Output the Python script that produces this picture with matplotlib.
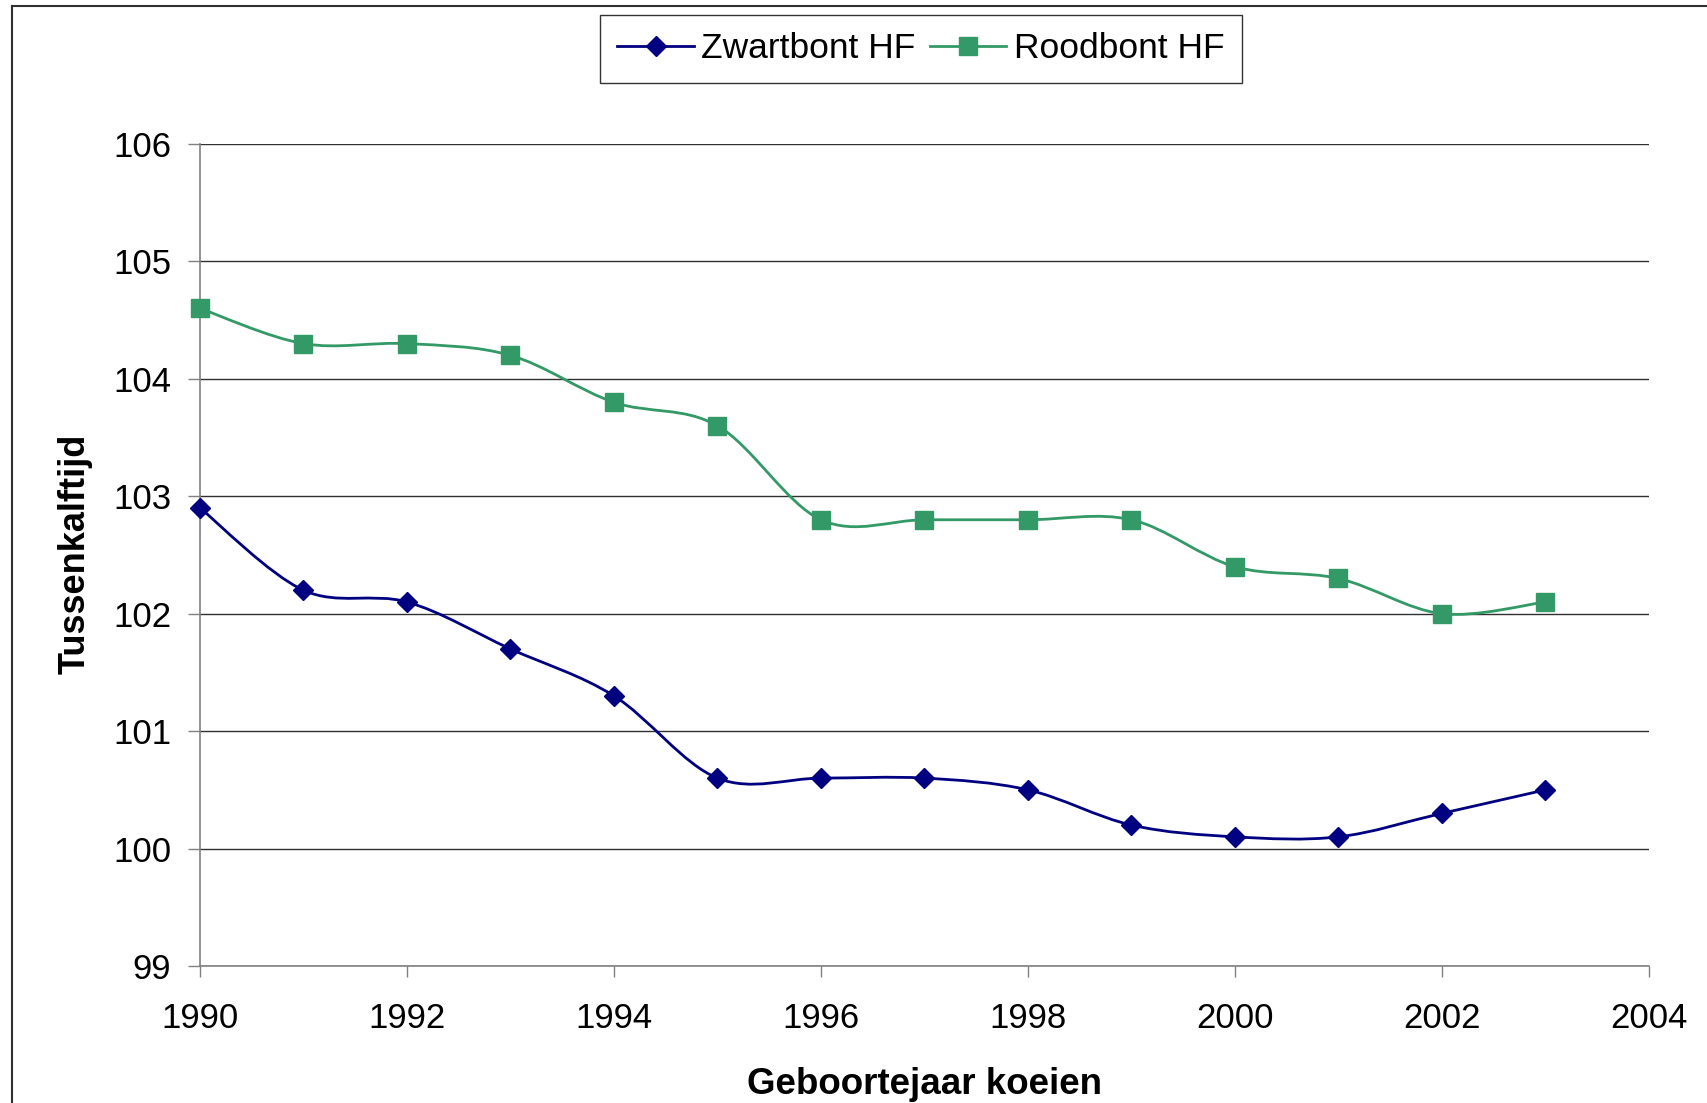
import matplotlib
matplotlib.use("Agg")
import matplotlib.pyplot as plt
from matplotlib.path import Path
from matplotlib.patches import PathPatch
from matplotlib.lines import Line2D
import numpy as np

years = [1990, 1991, 1992, 1993, 1994, 1995, 1996, 1997, 1998, 1999, 2000, 2001, 2002, 2003]
zwartbont = [102.9, 102.2, 102.1, 101.7, 101.3, 100.6, 100.6, 100.6, 100.5, 100.2, 100.1, 100.1, 100.3, 100.5]
roodbont = [104.6, 104.3, 104.3, 104.2, 103.8, 103.6, 102.8, 102.8, 102.8, 102.8, 102.4, 102.3, 102.0, 102.1]
series_names = ["Zwartbont HF", "Roodbont HF"]
x_ticks = [1990, 1992, 1994, 1996, 1998, 2000, 2002, 2004]
y_ticks = [99, 100, 101, 102, 103, 104, 105, 106]

plt.rcParams['font.family'] = ['Liberation Sans', 'DejaVu Sans']

W, H = 1708, 1103
fig = plt.figure(figsize=(W / 100, H / 100), dpi=100)
ax = fig.add_axes([200 / W, 1 - 966 / H, (1649 - 200) / W, (966 - 144) / H])


def smooth_path(xs, ys):
    pts = np.column_stack([xs, ys]).astype(float)
    n = len(pts)
    verts = [pts[0]]
    codes = [Path.MOVETO]
    for i in range(n - 1):
        p0 = pts[i - 1] if i > 0 else pts[i]
        p1 = pts[i]
        p2 = pts[i + 1]
        p3 = pts[i + 2] if i + 2 < n else pts[i + 1]
        c1 = p1 + (p2 - p0) / 6.0
        c2 = p2 - (p3 - p1) / 6.0
        verts += [c1, c2, p2]
        codes += [Path.CURVE4] * 3
    return Path(verts, codes)


styles = [
    dict(color="#000080", marker="D", ms=9.8),
    dict(color="#339966", marker="s", ms=12.8),
]
handles = []
for vals, st, name in zip([zwartbont, roodbont], styles, series_names):
    patch = PathPatch(smooth_path(years, vals), fill=False, edgecolor=st["color"],
                      lw=2.0, transform=ax.transData, zorder=3)
    ax.add_patch(patch)
    ax.plot(years, vals, linestyle="none", marker=st["marker"], ms=st["ms"],
            color=st["color"], zorder=4, clip_on=False)
    handles.append(Line2D([], [], color=st["color"], lw=2.0, marker=st["marker"],
                          ms=st["ms"] * 1.05, label=name))

ax.set_xlim(1990, 2004)
ax.set_ylim(99, 106)
ax.set_xticks(x_ticks)
ax.set_yticks(y_ticks)
ax.yaxis.grid(True, color="#303030", lw=1.0)
ax.set_axisbelow(True)
for s in ["top", "right"]:
    ax.spines[s].set_visible(False)
for s in ["left", "bottom"]:
    ax.spines[s].set_color("#808080")
    ax.spines[s].set_linewidth(1.2)
ax.tick_params(axis="y", direction="out", length=12 * 0.72, width=1.0, color="#808080",
               labelsize=25, pad=12)
ax.tick_params(axis="x", direction="out", length=11 * 0.72, width=1.0, color="#808080",
               labelsize=25, pad=18)

ax.set_xlabel("Geboortejaar koeien", fontsize=26.5, fontweight="bold")
ax.xaxis.set_label_coords(925 / W, 1 - 1084 / H, transform=fig.transFigure)
ax.xaxis.label.set_va("center")
ax.set_ylabel("Tussenkalftijd", fontsize=26, fontweight="bold")
ax.yaxis.set_label_coords(75 / W, 1 - 554 / H, transform=fig.transFigure)
ax.yaxis.label.set_va("center")

leg = fig.legend(handles=handles, loc="center", bbox_to_anchor=(921 / W, 1 - 49 / H),
                 ncol=2, fontsize=25.5, frameon=True, fancybox=False, edgecolor="#000000",
                 handlelength=2.15, handletextpad=0.22, columnspacing=0.4,
                 borderpad=0.5, borderaxespad=0)
leg.get_frame().set_linewidth(1.0)

# outer frame (left and top edges)
fig.add_artist(Line2D([12 / W, 12 / W], [0, 1 - 6 / H], color="#303030", lw=1.5,
                      transform=fig.transFigure))
fig.add_artist(Line2D([12 / W, 1], [1 - 6 / H, 1 - 6 / H], color="#303030", lw=1.5,
                      transform=fig.transFigure))

fig.savefig("out.png", dpi=100)
